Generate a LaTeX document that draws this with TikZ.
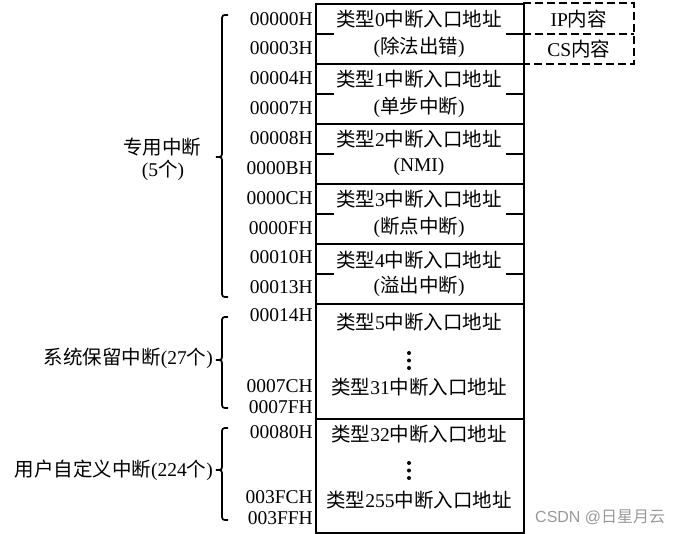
\documentclass[tikz,border=0pt]{standalone}
\usepackage{fontspec}
\setmainfont{Liberation Serif}
\newfontfamily\cjk{Noto Sans CJK SC}
\newfontfamily\wmsans{Liberation Sans}
\newcommand\zh[1]{{\cjk #1}}
\begin{document}
\begin{tikzpicture}[x=1pt,y=-1pt,
  every node/.style={inner sep=0pt, font=\fontsize{19.5}{22}\selectfont},
  addr/.style={anchor=east},
  cell/.style={draw, line width=2pt, anchor=north west, minimum width=208pt},
  seg/.style={line width=2pt},
  dbox/.style={line width=2pt, dash pattern=on 8pt off 4pt},
  brc/.style={line width=1.7pt},
  wm/.style={text=black!40, font=\wmsans\fontsize{16}{18}\selectfont}]
\useasboundingbox (0,0) rectangle (684,534);

% dashed IP / CS boxes
\node[minimum width=111pt, minimum height=30pt, anchor=north west] (ip) at (523,3.5) {IP\zh{内容}};
\node[minimum width=111pt, minimum height=30pt, anchor=north west] (cs) at (523,33.5) {CS\zh{内容}};
\draw[dbox] (ip.north west) -- (ip.north east) -- (cs.south east) -- (cs.south west);
\draw[dbox] (ip.south west) -- (ip.south east);

% table cells
\node[cell, minimum height=60pt] (r0) at (315,3) {};
\node[cell, minimum height=60pt] (r1) at (315,63) {};
\node[cell, minimum height=60pt] (r2) at (315,123) {};
\node[cell, minimum height=60pt] (r3) at (315,183) {};
\node[cell, minimum height=60pt] (r4) at (315,243) {};
\node[cell, minimum height=115pt] (r5) at (315,303) {};
\node[cell, minimum height=114pt] (r6) at (315,418) {};
\foreach \r in {r0,r1,r2,r3,r4}{
  \draw[seg] (\r.west) -- ++(19,0);
  \draw[seg] (\r.east) -- ++(-19,0);
}

% cell texts
\node (t0a) at (419,19) {\zh{类型}0\zh{中断入口地址}};
\node (t0b) at (419,47) {(\zh{除法出错})};
\node (t1a) at (419,79) {\zh{类型}1\zh{中断入口地址}};
\node (t1b) at (419,107) {(\zh{单步中断})};
\node (t2a) at (419,139) {\zh{类型}2\zh{中断入口地址}};
\node (t2b) at (419,167) {(NMI)};
\node (t3a) at (419,199) {\zh{类型}3\zh{中断入口地址}};
\node (t3b) at (419,227) {(\zh{断点中断})};
\node (t4a) at (419,260) {\zh{类型}4\zh{中断入口地址}};
\node (t4b) at (419,286) {(\zh{溢出中断})};
\node (t5a) at (419,322) {\zh{类型}5\zh{中断入口地址}};
\node (t5b) at (419,387) {\zh{类型}31\zh{中断入口地址}};
\node (t6a) at (419,434) {\zh{类型}32\zh{中断入口地址}};
\node (t6b) at (419,500) {\zh{类型}255\zh{中断入口地址}};
\foreach \y in {353,360.5,368}{\fill (409,\y) circle (2pt);}
\foreach \y in {463,470.5,478}{\fill (409,\y) circle (2pt);}

% addresses
\node[addr] (a0) at (313,19) {00000H};
\node[addr] (a1) at (313,48) {00003H};
\node[addr] (a2) at (313,78) {00004H};
\node[addr] (a3) at (313,108) {00007H};
\node[addr] (a4) at (313,138) {00008H};
\node[addr] (a5) at (313,168) {0000BH};
\node[addr] (a6) at (313,198) {0000CH};
\node[addr] (a7) at (313,228) {0000FH};
\node[addr] (a8) at (313,257) {00010H};
\node[addr] (a9) at (313,287) {00013H};
\node[addr] (a10) at (313,315) {00014H};
\node[addr] (a11) at (313,386) {0007CH};
\node[addr] (a12) at (313,407) {0007FH};
\node[addr] (a13) at (313,432) {00080H};
\node[addr] (a14) at (313,497) {003FCH};
\node[addr] (a15) at (313,518) {003FFH};

% braces
\draw[brc] (228,15) .. controls (222,15) .. (222,21) -- (222,151) .. controls (222,157) .. (216,157)
  .. controls (222,157) .. (222,163) -- (222,291) .. controls (222,297) .. (228,297);
\draw[brc] (228,317) .. controls (222,317) .. (222,323) -- (222,354) .. controls (222,360) .. (216,360)
  .. controls (222,360) .. (222,366) -- (222,402) .. controls (222,408) .. (228,408);
\draw[brc] (228,428) .. controls (222,428) .. (222,434) -- (222,464) .. controls (222,470) .. (216,470)
  .. controls (222,470) .. (222,476) -- (222,514) .. controls (222,520) .. (228,520);

% group labels
\node (g1a) at (162,147) {\zh{专用中断}};
\node (g1b) at (163,170) {(5\zh{个})};
\node[anchor=east] (g2) at (213,358) {\zh{系统保留中断}(27\zh{个})};
\node[anchor=east] (g3) at (213,470) {\zh{用户自定义中断}(224\zh{个})};

% watermark
\node[wm, anchor=west] (wmk) at (535,517) {CSDN @{\cjk 日星月云}};
\end{tikzpicture}
\end{document}
